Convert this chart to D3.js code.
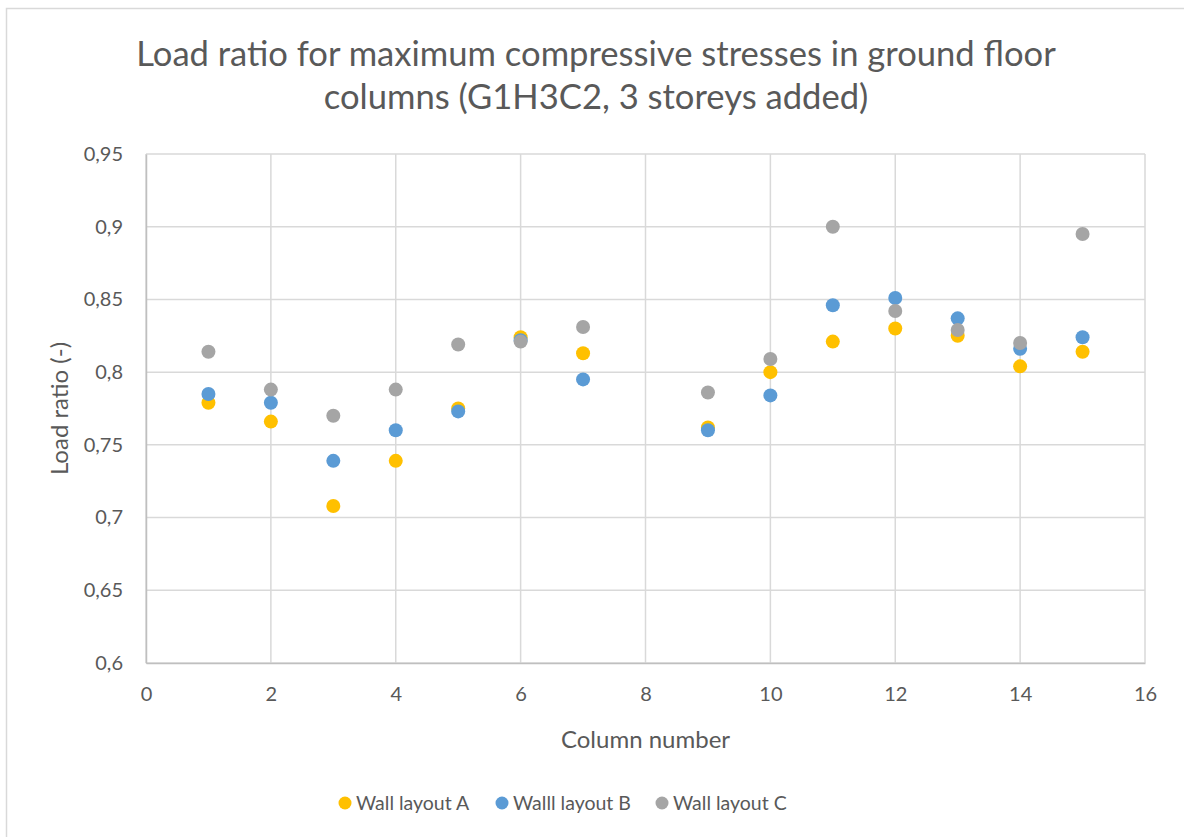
<!DOCTYPE html>
<html>
<head>
<meta charset="utf-8">
<script src="https://cdn.jsdelivr.net/npm/d3@7"></script>
<style>
  html, body { margin: 0; padding: 0; background: #fff; }
  svg { display: block; }
  text { font-family: Lato, "Open Sans", sans-serif; fill: #595959; }
</style>
</head>
<body>
<svg id="chart" width="1184" height="837"></svg>
<script>
// Ground floor column numbers (column 8 has no result)
const columns = [1, 2, 3, 4, 5, 6, 7, 9, 10, 11, 12, 13, 14, 15];
// Load ratio per wall layout
const layoutA = [0.779, 0.766, 0.708, 0.739, 0.775, 0.824, 0.813, 0.762, 0.800, 0.821, 0.830, 0.825, 0.804, 0.814];
const layoutB = [0.785, 0.779, 0.739, 0.760, 0.773, 0.822, 0.795, 0.760, 0.784, 0.846, 0.851, 0.837, 0.816, 0.824];
const layoutC = [0.814, 0.788, 0.770, 0.788, 0.819, 0.821, 0.831, 0.786, 0.809, 0.900, 0.842, 0.829, 0.820, 0.895];
const seriesNames = ["Wall layout A", "Walll layout B", "Wall layout C"];
const seriesColors = ["#FFC000", "#5B9BD5", "#A5A5A5"];
// Axis ticks
const xTicks = [0, 2, 4, 6, 8, 10, 12, 14, 16];
const yTicks = [0.6, 0.65, 0.7, 0.75, 0.8, 0.85, 0.9, 0.95];

const svg = d3.select("#chart");
const plotLeft = 146, plotRight = 1145, plotTop = 154, plotBottom = 663;

const x = d3.scaleLinear().domain([0, 16]).range([plotLeft, plotRight]);
const y = d3.scaleLinear().domain([0.6, 0.95]).range([plotBottom, plotTop]);

const locale = d3.formatLocale({ decimal: ",", thousands: ".", grouping: [3], currency: ["", "€"] });
const fmt = locale.format("~g");

// Chart frame
svg.append("rect")
  .attr("x", 6.5).attr("y", 8.5)
  .attr("width", 1200).attr("height", 900)
  .attr("fill", "#fff").attr("stroke", "#D9D9D9").attr("stroke-width", 1.5);

// Title (two lines, sized so the first line spans about 920px)
const title = svg.append("text")
  .attr("text-anchor", "middle")
  .attr("font-size", 30);
const line1 = title.append("tspan").attr("x", 596).attr("y", 66)
  .text("Load ratio for maximum compressive stresses in ground floor");
title.append("tspan").attr("x", 596).attr("y", 109)
  .text("columns (G1H3C2, 3 storeys added)");
const w1 = line1.node().getComputedTextLength();
if (w1 > 0) title.attr("font-size", Math.min(36, 30 * 920 / w1));

// Gridlines
const grid = svg.append("g");
grid.selectAll("line.h").data(yTicks).join("line")
  .attr("x1", plotLeft).attr("x2", plotRight)
  .attr("y1", d => y(d)).attr("y2", d => y(d))
  .attr("stroke", "#D9D9D9").attr("stroke-width", 1.5);
grid.selectAll("line.v").data(xTicks).join("line")
  .attr("y1", plotTop).attr("y2", plotBottom)
  .attr("x1", d => x(d)).attr("x2", d => x(d))
  .attr("stroke", "#D9D9D9").attr("stroke-width", 1.5);

// Axes
const xAxis = svg.append("g")
  .attr("transform", `translate(0,${plotBottom})`)
  .call(d3.axisBottom(x).tickValues(xTicks).tickSize(0).tickPadding(24).tickFormat(fmt));
const yAxis = svg.append("g")
  .attr("transform", `translate(${plotLeft},0)`)
  .call(d3.axisLeft(y).tickValues(yTicks).tickSize(0).tickPadding(23).tickFormat(fmt));
[xAxis, yAxis].forEach(g => {
  g.select(".domain").attr("stroke", "#BFBFBF").attr("stroke-width", 1.5);
  g.selectAll("text").attr("font-size", 20).attr("fill", "#595959")
    .attr("font-family", "Lato, 'Open Sans', sans-serif");
});

// Axis titles
svg.append("text")
  .attr("x", (plotLeft + plotRight) / 2).attr("y", 748)
  .attr("text-anchor", "middle").attr("font-size", 24)
  .text("Column number");
svg.append("text")
  .attr("transform", `translate(68,${(plotTop + plotBottom) / 2}) rotate(-90)`)
  .attr("text-anchor", "middle").attr("font-size", 24)
  .text("Load ratio (-)");

// Points, drawn in series order
const series = [layoutA, layoutB, layoutC];
series.forEach((vals, i) => {
  svg.append("g").selectAll("circle")
    .data(columns.map((c, j) => ({ c, v: vals[j] })))
    .join("circle")
    .attr("cx", d => x(d.c))
    .attr("cy", d => y(d.v))
    .attr("r", 7)
    .attr("fill", seriesColors[i]);
});

// Legend
const legendX = [345, 502, 662];
const legend = svg.append("g");
seriesNames.forEach((name, i) => {
  legend.append("circle")
    .attr("cx", legendX[i]).attr("cy", 803).attr("r", 6.5)
    .attr("fill", seriesColors[i]);
  legend.append("text")
    .attr("x", legendX[i] + 11).attr("y", 810)
    .attr("font-size", 19.5)
    .text(name);
});
</script>
</body>
</html>
